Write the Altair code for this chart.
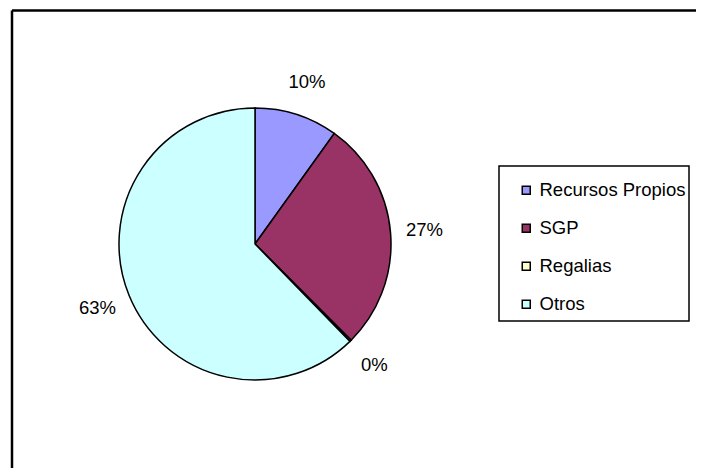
import altair as alt
import pandas as pd

categories = ["Recursos Propios", "SGP", "Regalias", "Otros"]
values = [9.9, 27.6, 0.2, 62.3]
labels = ["10%", "27%", "0%", "63%"]
colors = ["#9999FF", "#993366", "#FFFFCC", "#CCFFFF"]

df = pd.DataFrame({"cat": categories, "val": values, "lab": labels, "ord": list(range(len(categories)))})
one = pd.DataFrame({"a": [0]})

FONT = "Liberation Sans"
CX, CY = 247, 236

frame_top = alt.Chart(one).mark_rule(color="black", strokeWidth=2.5).encode(
    x=alt.value(4), x2=alt.value(700), y=alt.value(2.5)
)
frame_left = alt.Chart(one).mark_rule(color="black", strokeWidth=2.5).encode(
    x=alt.value(4), y=alt.value(2.5), y2=alt.value(470)
)
legend_box = alt.Chart(one).mark_rect(fill="white", stroke="black", strokeWidth=1.5).encode(
    x=alt.value(491), x2=alt.value(681), y=alt.value(158), y2=alt.value(313)
)

base = alt.Chart(df).encode(
    theta=alt.Theta("val:Q", stack=True),
    order=alt.Order("ord:Q"),
)

pie = base.mark_arc(outerRadius=136, stroke="black", strokeWidth=1.5).encode(
    x=alt.value(CX), y=alt.value(CY),
    color=alt.Color(
        "cat:N",
        scale=alt.Scale(domain=categories, range=colors),
        legend=alt.Legend(
            title=None, orient="none", legendX=509, legendY=173,
            symbolType="square", symbolSize=64, symbolStrokeColor="black",
            symbolStrokeWidth=1.5, labelFont=FONT, labelFontSize=18.5,
            labelColor="black", labelOffset=4, rowPadding=19, padding=0,
        ),
    ),
)

text = base.mark_text(radius=170, font=FONT, fontSize=18.5, color="black").encode(
    x=alt.value(CX), y=alt.value(CY), text="lab:N"
)

chart = alt.layer(frame_top, frame_left, legend_box, pie, text).properties(
    width=688, height=460, padding=0, autosize=alt.AutoSizeParams(type="none")
).configure_view(stroke=None)

chart.save("out.html", embed_options={"renderer": "svg", "actions": False})
